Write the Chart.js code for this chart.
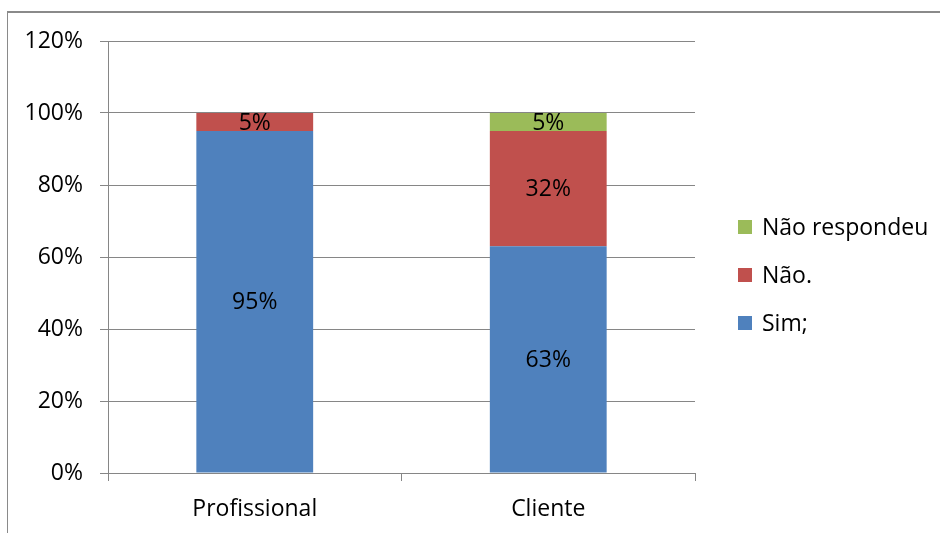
<!DOCTYPE html>
<html>
<head>
<meta charset="utf-8">
<script src="https://cdn.jsdelivr.net/npm/chart.js@4/dist/chart.umd.min.js"></script>
<style>
    html, body { margin: 0; padding: 0; background: #fff; }
    #wrap { position: relative; width: 940px; height: 533px; overflow: hidden; }
    #frame {
        position: absolute; left: 7px; top: 11px; width: 1000px; height: 600px;
        border-left: 1px solid #8a8a8a; border-top: 2px solid #8a8a8a;
    }
    #box { position: absolute; left: 0; top: 0; width: 940px; height: 533px; }
</style>
</head>
<body>
<div id="wrap">
    <div id="frame"></div>
    <div id="box"><canvas id="surveyChart"></canvas></div>
</div>
<script>
// Respostas por grupo (%)
const categories = ['Profissional', 'Cliente'];
const simValues = [95, 63];
const naoValues = [5, 32];
const naoRespValues = [0, 5];

const seriesLabels = ['Sim;', 'Não.', 'Não respondeu'];
const seriesColors = ['#4F81BD', '#C0504D', '#9BBB59'];

const FONT = "'Open Sans', sans-serif";
const FONT_SIZE = 23;

// Percent labels centred in every stacked segment
const segmentLabels = {
    id: 'segmentLabels',
    afterDatasetsDraw(chart) {
        const ctx = chart.ctx;
        ctx.save();
        ctx.font = FONT_SIZE + 'px ' + FONT;
        ctx.fillStyle = '#000';
        ctx.textAlign = 'center';
        ctx.textBaseline = 'middle';
        chart.data.datasets.forEach((ds, i) => {
            const meta = chart.getDatasetMeta(i);
            meta.data.forEach((bar, j) => {
                const v = ds.data[j];
                if (!v) return;
                ctx.fillText(v + '%', bar.x, (bar.y + bar.base) / 2 + 1);
            });
        });
        ctx.restore();
    }
};

// Legend on the right side, top entry is the last series
const sideLegend = {
    id: 'sideLegend',
    afterDraw(chart) {
        const ctx = chart.ctx;
        const x = chart.chartArea.right + 43;
        const startY = 227;
        const step = 48;
        ctx.save();
        ctx.font = FONT_SIZE + 'px ' + FONT;
        ctx.textBaseline = 'middle';
        ctx.textAlign = 'left';
        const items = chart.data.datasets.slice().reverse();
        items.forEach((ds, k) => {
            const cy = startY + k * step;
            ctx.fillStyle = ds.backgroundColor;
            ctx.fillRect(x, cy - 7, 14, 14);
            ctx.fillStyle = '#000';
            ctx.fillText(ds.label, x + 24, cy + 1);
        });
        ctx.restore();
    }
};

function initChart() {
    const ctx = document.getElementById('surveyChart').getContext('2d');
    const valueSets = [simValues, naoValues, naoRespValues];

    return new Chart(ctx, {
        type: 'bar',
        data: {
            labels: categories,
            datasets: valueSets.map((data, i) => ({
                label: seriesLabels[i],
                data,
                backgroundColor: seriesColors[i],
                borderWidth: 0,
                barPercentage: 0.398,
                categoryPercentage: 1
            }))
        },
        options: {
            responsive: true,
            maintainAspectRatio: false,
            animation: false,
            layout: { padding: { top: 41, right: 245, bottom: 0, left: 0 } },
            plugins: {
                legend: { display: false },
                tooltip: { enabled: false }
            },
            scales: {
                x: {
                    stacked: true,
                    grid: {
                        display: true,
                        drawOnChartArea: false,
                        offset: true,
                        color: '#868686',
                        tickLength: 8
                    },
                    border: { color: '#868686' },
                    ticks: {
                        color: '#000',
                        padding: 15,
                        font: { family: FONT, size: FONT_SIZE }
                    },
                    afterFit(scale) { scale.height = 60; }
                },
                y: {
                    stacked: true,
                    min: 0,
                    max: 120,
                    grid: { color: '#868686', tickLength: 8 },
                    border: { color: '#868686' },
                    ticks: {
                        stepSize: 20,
                        color: '#000',
                        padding: 17,
                        font: { family: FONT, size: FONT_SIZE },
                        callback: v => v + '%'
                    },
                    afterFit(scale) { scale.width = 108; }
                }
            }
        },
        plugins: [segmentLabels, sideLegend]
    });
}

document.addEventListener('DOMContentLoaded', initChart);
</script>
</body>
</html>
